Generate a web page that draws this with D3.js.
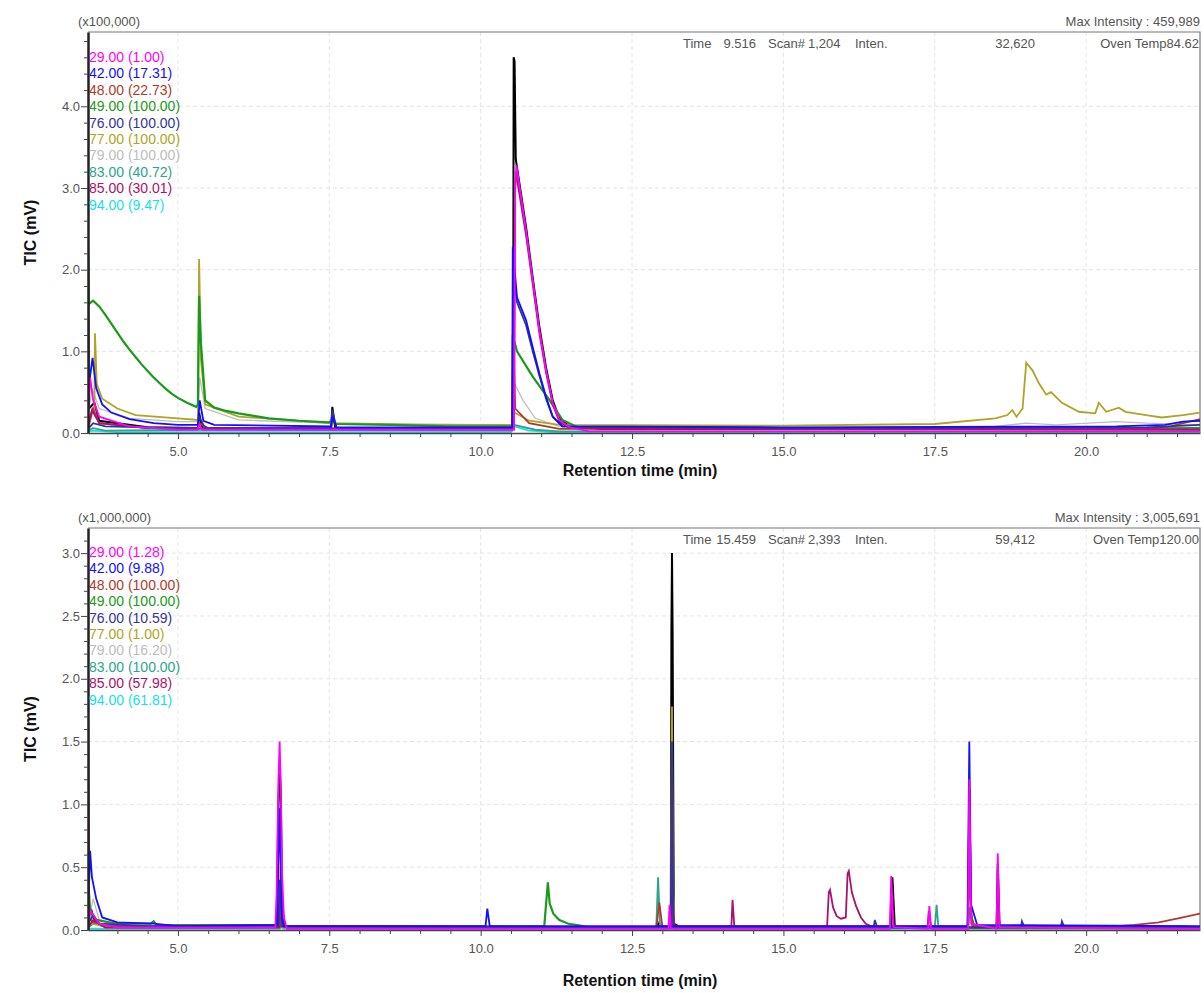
<!DOCTYPE html>
<html>
<head>
<meta charset="utf-8">
<script src="https://cdn.jsdelivr.net/npm/d3@7"></script>
<style>
  body { margin: 0; background: #fff; }
  svg { font-family: "Liberation Sans", Arial, sans-serif; }
</style>
</head>
<body>
<svg width="1204" height="993"></svg>
<script>
// ion labels and legend scale factors
var ions = ["29.00", "42.00", "48.00", "49.00", "76.00", "77.00", "79.00", "83.00", "85.00", "94.00"];
var ionColors = ["#ff00ff", "#1010ff", "#b03a2a", "#1a9a1a", "#34349a", "#b0a424", "#bdbdbd", "#2aa58e", "#a8146a", "#14e2e2"];
var topFactors = ["1.00", "17.31", "22.73", "100.00", "100.00", "100.00", "100.00", "40.72", "30.01", "9.47"];
var bottomFactors = ["1.28", "9.88", "100.00", "100.00", "10.59", "1.00", "16.20", "100.00", "57.98", "61.81"];

var xMajor = [5.0, 7.5, 10.0, 12.5, 15.0, 17.5, 20.0];
var topYMajor = [0, 1, 2, 3, 4];
var bottomYMajor = [0, 0.5, 1.0, 1.5, 2.0, 2.5, 3.0];

// ---- top chromatogram (x100,000), [time, intensity] ----
var top94 = [[3.515,0.02],[3.6,0.03],[4.0,0.01],[10.5,0.01],[10.56,0.08],[10.8,0.03],[11.2,0.01],[21.88,0.01]];
var top83 = [[3.515,0.03],[3.6,0.06],[3.8,0.03],[5.35,0.04],[10.52,0.03],[10.55,0.1],[10.9,0.04],[11.3,0.02],[21.88,0.02]];
var top79 = [[3.515,0.2],[3.58,0.55],[3.7,0.3],[4.2,0.18],[5.0,0.14],[5.33,0.14],[5.36,0.68],[5.45,0.3],[6.0,0.16],[7.5,0.12],[10.52,0.1],[10.56,0.6],[10.7,0.4],[10.9,0.18],[11.3,0.08],[15.0,0.06],[18.5,0.08],[19.0,0.12],[19.5,0.1],[20.5,0.14],[21.0,0.12],[21.88,0.1]];
var top77 = [[3.515,0.15],[3.6,0.3],[3.62,0.3],[3.63,1.22],[3.66,0.6],[3.75,0.42],[4.0,0.3],[4.3,0.22],[5.0,0.18],[5.33,0.16],[5.35,2.13],[5.38,0.9],[5.45,0.35],[6.0,0.2],[6.8,0.16],[7.5,0.12],[9.0,0.1],[10.52,0.1],[10.56,0.25],[10.8,0.15],[11.3,0.1],[15.0,0.09],[17.5,0.11],[18.5,0.18],[18.7,0.22],[18.78,0.28],[18.85,0.2],[18.95,0.3],[19.01,0.86],[19.11,0.77],[19.22,0.61],[19.34,0.47],[19.42,0.5],[19.6,0.37],[19.88,0.26],[20.15,0.24],[20.21,0.37],[20.33,0.26],[20.54,0.31],[20.65,0.26],[20.99,0.22],[21.25,0.19],[21.6,0.22],[21.88,0.25]];
var top49 = [[3.515,2.25],[3.53,1.58],[3.6,1.62],[3.7,1.55],[3.8,1.45],[3.9,1.34],[4.0,1.23],[4.1,1.12],[4.2,1.02],[4.3,0.93],[4.4,0.84],[4.5,0.76],[4.6,0.68],[4.7,0.61],[4.8,0.54],[4.9,0.48],[5.0,0.43],[5.15,0.37],[5.3,0.32],[5.33,0.35],[5.35,1.68],[5.38,1.1],[5.45,0.4],[5.6,0.31],[5.8,0.27],[6.0,0.24],[6.25,0.21],[6.5,0.18],[7.0,0.15],[7.5,0.13],[7.55,0.16],[7.6,0.11],[8.5,0.1],[9.5,0.08],[10.52,0.08],[10.53,1.2],[10.6,1.0],[10.86,0.69],[11.14,0.4],[11.35,0.16],[11.6,0.07],[15.0,0.06],[18.0,0.05],[21.88,0.06]];
var top48 = [[3.515,0.05],[3.6,0.3],[3.7,0.12],[4.5,0.06],[5.33,0.06],[5.35,0.12],[5.5,0.06],[10.52,0.05],[10.54,1.35],[10.57,0.3],[10.8,0.12],[11.3,0.05],[21.0,0.05],[21.4,0.08],[21.6,0.12],[21.88,0.17]];
var top85 = [[3.515,0.1],[3.58,0.28],[3.7,0.12],[4.5,0.06],[10.55,0.05],[10.57,3.0],[10.58,3.2],[10.75,2.42],[10.86,1.82],[10.97,1.22],[11.08,0.74],[11.19,0.35],[11.3,0.14],[11.47,0.06],[21.88,0.04]];
var top29 = [[3.515,0.3],[3.55,0.68],[3.6,0.4],[3.7,0.2],[4.2,0.08],[5.0,0.04],[5.33,0.04],[5.35,0.1],[5.4,0.04],[10.55,0.04],[10.57,3.0],[10.59,3.28],[10.75,2.48],[10.86,1.87],[10.97,1.26],[11.08,0.77],[11.19,0.37],[11.3,0.16],[11.47,0.07],[11.8,0.02],[21.88,0.02]];
var top76 = [[3.515,0.05],[3.6,0.12],[3.8,0.08],[5.0,0.06],[5.33,0.06],[5.35,0.2],[5.45,0.06],[7.53,0.06],[7.55,0.28],[7.62,0.06],[10.53,0.06],[10.54,2.0],[10.6,1.6],[10.75,1.32],[10.86,1.0],[10.97,0.7],[11.08,0.42],[11.19,0.2],[11.35,0.08],[15.0,0.06],[21.0,0.07],[21.88,0.1]];
var top42 = [[3.515,0.2],[3.55,0.7],[3.59,0.92],[3.65,0.55],[3.75,0.35],[3.9,0.25],[4.2,0.17],[4.6,0.12],[5.0,0.1],[5.33,0.1],[5.36,0.4],[5.42,0.15],[5.6,0.1],[7.53,0.08],[7.55,0.2],[7.62,0.07],[10.52,0.07],[10.53,2.28],[10.6,1.66],[10.75,1.38],[10.86,1.05],[10.97,0.73],[11.08,0.44],[11.19,0.2],[11.35,0.08],[15.0,0.07],[20.5,0.08],[21.3,0.1],[21.6,0.14],[21.88,0.15]];
var topTic = [[3.515,2.35],[3.53,0.3],[3.62,0.37],[3.7,0.15],[4.5,0.07],[5.33,0.06],[5.35,0.25],[5.4,0.06],[7.53,0.05],[7.55,0.32],[7.6,0.05],[10.535,0.05],[10.545,4.6],[10.56,4.55],[10.58,3.35],[10.75,2.52],[10.86,1.9],[10.97,1.3],[11.08,0.8],[11.19,0.4],[11.3,0.18],[11.47,0.08],[12.0,0.05],[21.88,0.05]];

// ---- bottom chromatogram (x1,000,000) ----
var bot94 = [[3.515,0.01],[6.68,0.01],[6.7,0.05],[6.74,0.01],[13.14,0.01],[13.16,0.1],[13.2,0.01],[21.88,0.01]];
var bot83 = [[3.515,0.02],[3.6,0.05],[4.0,0.02],[6.68,0.02],[6.7,0.15],[6.74,0.02],[12.9,0.02],[12.93,0.42],[12.96,0.05],[13.0,0.02],[17.5,0.02],[17.53,0.2],[17.56,0.02],[18.05,0.02],[18.07,0.3],[18.12,0.02],[21.88,0.01]];
var bot79 = [[3.515,0.05],[3.6,0.25],[3.7,0.08],[4.0,0.03],[6.68,0.03],[6.7,0.3],[6.74,0.02],[13.14,0.02],[13.16,0.7],[13.2,0.02],[18.05,0.02],[18.07,0.25],[18.12,0.02],[21.88,0.02]];
var bot77 = [[3.515,0.1],[3.55,0.05],[4.0,0.02],[13.14,0.02],[13.16,1.78],[13.18,0.02],[21.88,0.01]];
var bot49 = [[3.515,0.42],[3.55,0.15],[3.65,0.08],[4.0,0.05],[4.55,0.05],[4.6,0.07],[4.65,0.04],[6.68,0.04],[6.7,0.1],[6.75,0.03],[11.05,0.03],[11.11,0.38],[11.14,0.21],[11.2,0.13],[11.3,0.08],[11.45,0.05],[11.6,0.04],[11.8,0.02],[13.14,0.02],[13.16,0.93],[13.18,0.02],[18.05,0.02],[18.07,0.18],[18.15,0.02],[21.3,0.02],[21.5,0.03],[21.88,0.02]];
var bot48 = [[3.515,1.6],[3.53,0.1],[3.6,0.06],[4.0,0.03],[6.64,0.03],[6.66,0.05],[6.7,0.03],[12.9,0.02],[12.95,0.22],[13.0,0.03],[13.14,0.03],[13.16,1.3],[13.18,0.03],[18.04,0.03],[18.07,0.4],[18.12,0.03],[18.52,0.03],[18.54,0.15],[18.58,0.02],[20.5,0.03],[20.8,0.04],[21.2,0.06],[21.5,0.09],[21.88,0.13]];
var bot85 = [[3.515,0.02],[3.6,0.08],[3.8,0.02],[6.68,0.02],[6.7,0.5],[6.72,0.25],[6.76,0.03],[13.14,0.02],[13.16,0.36],[13.2,0.02],[14.14,0.02],[14.16,0.24],[14.19,0.02],[15.72,0.02],[15.75,0.3],[15.77,0.32],[15.82,0.18],[15.88,0.11],[15.95,0.09],[16.03,0.1],[16.06,0.45],[16.08,0.47],[16.13,0.3],[16.2,0.19],[16.28,0.1],[16.36,0.05],[16.5,0.02],[16.76,0.02],[16.78,0.3],[16.82,0.02],[17.38,0.02],[17.4,0.15],[17.44,0.02],[21.88,0.02]];
var bot29 = [[3.515,0.05],[3.56,0.15],[3.7,0.05],[4.0,0.02],[6.61,0.02],[6.63,0.3],[6.66,1.2],[6.68,1.5],[6.7,1.12],[6.72,0.45],[6.75,0.1],[6.8,0.01],[13.1,0.01],[13.12,0.2],[13.14,0.01],[16.76,0.01],[16.78,0.43],[16.82,0.02],[17.39,0.01],[17.41,0.19],[17.44,0.01],[18.05,0.01],[18.07,1.2],[18.1,0.05],[18.52,0.01],[18.54,0.61],[18.57,0.02],[21.88,0.01]];
var bot76 = [[3.515,0.05],[3.6,0.12],[3.7,0.05],[4.5,0.03],[6.66,0.03],[6.68,0.4],[6.72,0.03],[13.14,0.02],[13.16,1.5],[13.18,0.02],[16.49,0.02],[16.51,0.08],[16.55,0.02],[18.92,0.02],[18.94,0.07],[18.98,0.02],[19.58,0.02],[19.6,0.07],[19.64,0.02],[21.88,0.02]];
var bot42 = [[3.515,0.1],[3.55,0.63],[3.58,0.42],[3.65,0.25],[3.75,0.1],[4.0,0.06],[4.6,0.05],[5.0,0.03],[6.64,0.04],[6.68,0.97],[6.72,0.1],[6.75,0.03],[10.08,0.03],[10.11,0.17],[10.15,0.03],[18.04,0.03],[18.07,1.5],[18.1,0.2],[18.2,0.04],[21.88,0.03]];
var botTic = [[3.515,1.75],[3.53,0.18],[3.56,0.18],[3.6,0.1],[3.7,0.04],[4.0,0.02],[6.63,0.02],[6.66,1.0],[6.68,1.33],[6.7,1.05],[6.72,0.2],[6.76,0.02],[12.91,0.02],[12.93,0.05],[12.95,0.02],[13.14,0.02],[13.15,2.38],[13.16,3.0],[13.17,2.38],[13.19,0.05],[13.3,0.02],[16.78,0.02],[16.8,0.42],[16.84,0.02],[18.05,0.02],[18.07,1.12],[18.1,0.1],[18.15,0.03],[18.52,0.02],[18.54,0.53],[18.57,0.02],[21.88,0.01]];

var svg = d3.select("svg");
var xDomain = [3.515, 21.88];

var panels = [
  {
    top: 32, bottom: 433, yMax: 4.91, yMajor: topYMajor, minorStep: 0.2,
    mult: "(x100,000)", maxInt: "Max Intensity : 459,989",
    info: { time: "9.516", scan: "1,204", inten: "32,620", oven: "Oven Temp84.62" },
    factors: topFactors, legendY: 62, xLabelY: 476,
    traces: [topTic, top29, top42, top48, top49, top76, top77, top79, top83, top85, top94]
  },
  {
    top: 528, bottom: 930, yMax: 3.2, yMajor: bottomYMajor, minorStep: 0.1,
    mult: "(x1,000,000)", maxInt: "Max Intensity : 3,005,691",
    info: { time: "15.459", scan: "2,393", inten: "59,412", oven: "Oven Temp120.00" },
    factors: bottomFactors, legendY: 557, xLabelY: 986,
    traces: [botTic, bot29, bot42, bot48, bot49, bot76, bot77, bot79, bot83, bot85, bot94]
  }
];

// drawing order of the ion traces (index into ions), the total (black) goes first
var drawOrder = [9, 7, 6, 5, 3, 2, 8, 4, 1, 0];

var left = 88, right = 1200;

panels.forEach(function(p, pi) {
  var x = d3.scaleLinear().domain(xDomain).range([left, right]);
  var y = d3.scaleLinear().domain([0, p.yMax]).range([p.bottom, p.top]);
  var g = svg.append("g");

  // grid
  g.append("g").selectAll("line").data(xMajor).enter().append("line")
    .attr("x1", d => x(d)).attr("x2", d => x(d))
    .attr("y1", p.top).attr("y2", p.bottom)
    .attr("stroke", "#e4e4e4").attr("stroke-dasharray", "4,3");
  g.append("g").selectAll("line").data(p.yMajor.filter(d => d > 0)).enter().append("line")
    .attr("x1", left).attr("x2", right)
    .attr("y1", d => y(d)).attr("y2", d => y(d))
    .attr("stroke", "#e4e4e4").attr("stroke-dasharray", "4,3");

  // frame top/right
  g.append("path")
    .attr("d", "M" + left + "," + p.top + "H" + right + "V" + p.bottom)
    .attr("fill", "none").attr("stroke", "#777").attr("stroke-width", 1.2);

  // traces
  var clipId = "clip" + pi;
  svg.append("clipPath").attr("id", clipId).append("rect")
    .attr("x", left).attr("y", p.top).attr("width", right - left).attr("height", p.bottom - p.top);
  var line = d3.line().x(d => x(d[0])).y(d => y(d[1]));
  var tg = g.append("g").attr("clip-path", "url(#" + clipId + ")");
  tg.append("path").datum(p.traces[0]).attr("d", line)
    .attr("fill", "none").attr("stroke", "#000").attr("stroke-width", 2);
  drawOrder.forEach(function(i) {
    tg.append("path").datum(p.traces[i + 1]).attr("d", line)
      .attr("fill", "none").attr("stroke", ionColors[i])
      .attr("stroke-width", i === 6 ? 1.3 : (i === 3 ? 2.2 : 1.8))
      .attr("stroke-linejoin", "miter");
  });

  // x axis
  var minorX = d3.range(4.0, 21.9, 0.5).filter(t => xMajor.indexOf(t) < 0);
  var xAxis = g.append("g").attr("transform", "translate(0," + p.bottom + ")");
  xAxis.call(d3.axisBottom(x).tickValues(xMajor).tickFormat(d3.format(".1f")).tickSize(6).tickSizeOuter(0));
  xAxis.append("g").call(d3.axisBottom(x).tickValues(minorX).tickFormat("").tickSize(4).tickSizeOuter(0))
    .select(".domain").remove();
  xAxis.selectAll(".domain").attr("stroke", "#444").attr("stroke-width", 1.5);
  xAxis.selectAll(".tick line").attr("stroke", "#444");
  xAxis.selectAll("text").attr("font-size", 13).attr("fill", "#555").attr("dy", "1.1em");

  // y axis
  var minorY = d3.range(p.minorStep, p.yMax, p.minorStep).filter(v =>
    p.yMajor.every(m => Math.abs(m - v) > 1e-6));
  var yAxis = g.append("g").attr("transform", "translate(" + left + ",0)");
  yAxis.call(d3.axisLeft(y).tickValues(p.yMajor).tickFormat(d3.format(".1f")).tickSize(7).tickSizeOuter(0));
  yAxis.append("g").call(d3.axisLeft(y).tickValues(minorY).tickFormat("").tickSize(4).tickSizeOuter(0))
    .select(".domain").remove();
  yAxis.selectAll(".domain").attr("stroke", "#222").attr("stroke-width", 2.5);
  yAxis.selectAll(".tick line").attr("stroke", "#444");
  yAxis.selectAll("text").attr("font-size", 13).attr("fill", "#555").attr("x", -8);

  // labels
  g.append("text").attr("x", 640).attr("y", p.xLabelY).attr("text-anchor", "middle")
    .attr("font-size", 16).attr("font-weight", "bold").attr("fill", "#111")
    .text("Retention time (min)");
  g.append("text").attr("transform", "translate(36," + ((p.top + p.bottom) / 2 + 0) + ") rotate(-90)")
    .attr("text-anchor", "middle").attr("font-size", 16).attr("font-weight", "bold").attr("fill", "#111")
    .text("TIC (mV)");

  // header
  g.append("text").attr("x", 78).attr("y", p.top - 6).attr("font-size", 13).attr("fill", "#555").text(p.mult);
  g.append("text").attr("x", 1200).attr("y", p.top - 6).attr("text-anchor", "end")
    .attr("font-size", 13).attr("fill", "#555").text(p.maxInt);
  var hy = p.top + 16;
  var hdr = [
    ["Time", 683, "start"], [p.info.time, 756, "end"], ["Scan#", 768, "start"], [p.info.scan, 808, "start"],
    ["Inten.", 855, "start"], [p.info.inten, 1035, "end"], [p.info.oven, 1199, "end"]
  ];
  g.append("g").selectAll("text").data(hdr).enter().append("text")
    .attr("x", d => d[1]).attr("y", hy).attr("text-anchor", d => d[2])
    .attr("font-size", 13).attr("fill", "#555").text(d => d[0]);

  // legend
  g.append("g").selectAll("text").data(ions).enter().append("text")
    .attr("x", 89).attr("y", (d, i) => p.legendY + i * 16.4)
    .attr("font-size", 14).attr("fill", (d, i) => ionColors[i])
    .text((d, i) => d + " (" + p.factors[i] + ")");
});
</script>
</body>
</html>
